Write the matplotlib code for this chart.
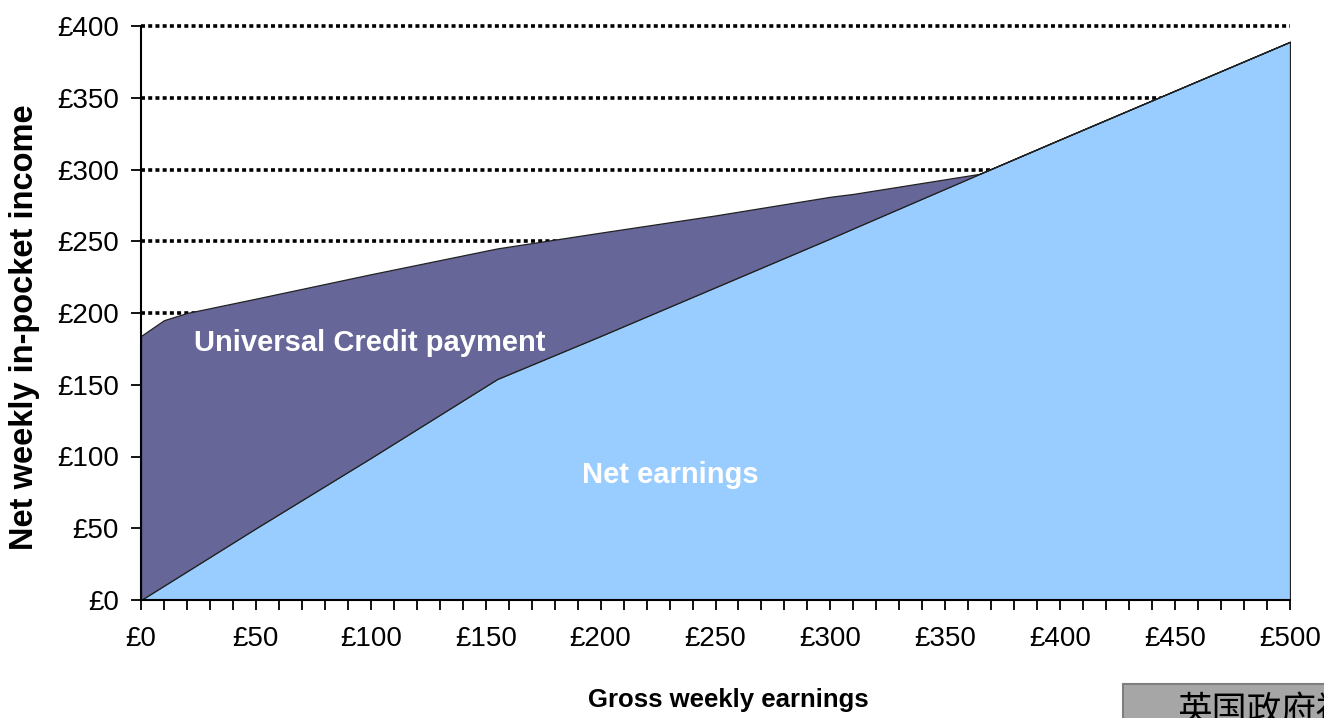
import matplotlib
matplotlib.use("Agg")
import matplotlib.pyplot as plt
from matplotlib.patches import Rectangle
from matplotlib.ticker import MultipleLocator, FuncFormatter

# ---- data ----
gross = [0, 10, 20, 50, 100, 155, 200, 250, 300, 310, 365, 400, 450, 500]
net_earnings = [0, 10, 20, 50, 99, 154, 184, 218, 252, 259, 297, 321, 355, 389]
uc_payment = [184, 185, 180, 160, 128, 91, 72, 50, 29, 24, 0, 0, 0, 0]
y_ticks = [0, 50, 100, 150, 200, 250, 300, 350, 400]
x_ticks = [0, 50, 100, 150, 200, 250, 300, 350, 400, 450, 500]

W, H = 1324, 718
fig = plt.figure(figsize=(W / 100, H / 100), dpi=100)
ax = fig.add_axes([141 / W, 1 - 600 / H, (1290 - 141) / W, (600 - 26) / H])

total = [n + u for n, u in zip(net_earnings, uc_payment)]
ax.fill_between(gross, 0, net_earnings, facecolor="#99CCFF", edgecolor="#222222",
                linewidth=0.9, zorder=2)
ax.fill_between(gross, net_earnings, total, facecolor="#666699", edgecolor="#222222",
                linewidth=0.9, zorder=2)

# dotted horizontal gridlines (behind the areas), not clipped so the top one is full width
ax.hlines(y_ticks[1:], x_ticks[0], x_ticks[-1], colors="black",
          linestyles=[(0, (1.1, 0.9))], linewidth=2.6, zorder=1, clip_on=False)

ax.set_xlim(x_ticks[0], x_ticks[-1])
ax.set_ylim(y_ticks[0], y_ticks[-1])
ax.set_yticks(y_ticks)
ax.set_xticks(x_ticks)
ax.xaxis.set_minor_locator(MultipleLocator(10))
fmt = FuncFormatter(lambda v, p: "£%d" % v)
ax.xaxis.set_major_formatter(fmt)
ax.yaxis.set_major_formatter(fmt)

for s in ["top", "right"]:
    ax.spines[s].set_visible(False)
for s in ["left", "bottom"]:
    ax.spines[s].set_linewidth(1.5)
    ax.spines[s].set_zorder(3)

ax.tick_params(axis="x", which="both", direction="out", length=7, width=1.3, pad=12,
               labelsize=20)
ax.tick_params(axis="y", which="both", direction="out", length=7, width=1.3, pad=9,
               labelsize=20)
for lab in ax.get_xticklabels() + ax.get_yticklabels():
    lab.set_fontfamily("Liberation Sans")

ax.text(23, 179, "Universal Credit payment", color="white", fontsize=21,
        fontweight="bold", family="Liberation Sans", va="center", ha="left", zorder=4)
ax.text(192, 87, "Net earnings", color="white", fontsize=21,
        fontweight="bold", family="Liberation Sans", va="center", ha="left", zorder=4)

fig.text(25 / W, 1 - 327 / H, "Net weekly in-pocket income", rotation=90,
         fontsize=23.5, fontweight="bold", family="Liberation Sans", ha="center", va="center")
fig.text(728 / W, 1 - 700 / H, "Gross weekly earnings",
         fontsize=18.5, fontweight="bold", family="Liberation Sans", ha="center", va="center")

# caption box partially visible in bottom-right corner (cut off as in the reference)
fig.patches.append(Rectangle((1123 / W, -0.05), 0.2, 0.05 + (718 - 684) / H,
                             transform=fig.transFigure, facecolor="#A6A6A6",
                             edgecolor="#7F7F7F", linewidth=1.5))
fig.text(1178 / W, 1 - 694 / H, "英国政府福利", fontsize=25, color="black",
         family=["Noto Sans CJK SC", "DejaVu Sans"], ha="left", va="top")

fig.savefig("out.png", dpi=100)
